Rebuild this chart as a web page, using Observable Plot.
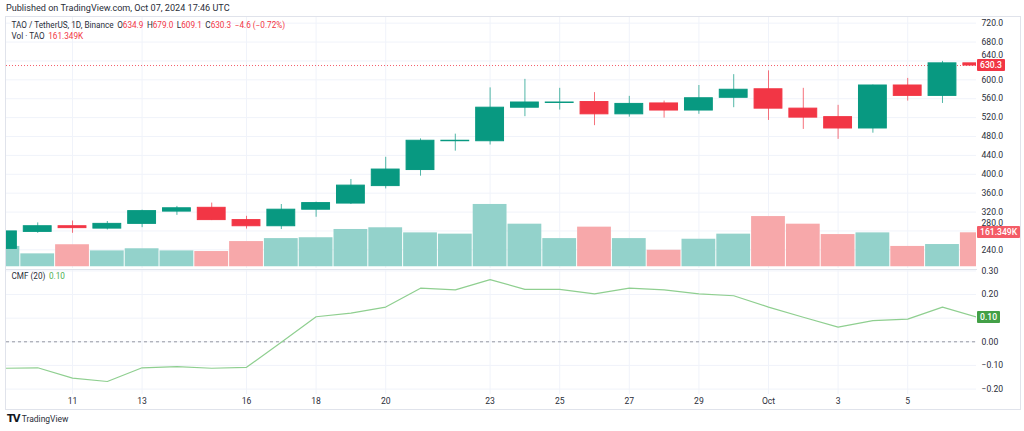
<!DOCTYPE html>
<html><head><meta charset="utf-8">
<script src="https://cdn.jsdelivr.net/npm/d3@7"></script>
<script src="https://cdn.jsdelivr.net/npm/@observablehq/plot@0.6"></script>
<style>
body{margin:0;background:#fff;font-family:Roboto,"Noto Sans",sans-serif;color:#131722;}
#root{position:relative;width:1024px;height:431px;overflow:hidden;background:#fff;}
.abs{position:absolute;white-space:nowrap;}
.txt{font-size:8.2px;line-height:10px;color:#2a2e39;}
.row{display:flex;gap:3.5px;}
.red{color:#f23645;}
.lab{position:absolute;left:977px;height:12px;line-height:12px;font-size:8.6px;color:#fff;padding:0 3px;font-weight:500;border-radius:1px;}
svg.layer{position:absolute;left:0;}
</style></head><body><div id="root"></div>
<script>
// ---------- data ----------
const dates = ["2024-09-09","2024-09-10","2024-09-11","2024-09-12","2024-09-13","2024-09-14","2024-09-15","2024-09-16","2024-09-17","2024-09-18","2024-09-19","2024-09-20","2024-09-21","2024-09-22","2024-09-23","2024-09-24","2024-09-25","2024-09-26","2024-09-27","2024-09-28","2024-09-29","2024-09-30","2024-10-01","2024-10-02","2024-10-03","2024-10-04","2024-10-05","2024-10-06","2024-10-07"];
const open  = [242, 278, 290, 285, 295, 321, 329, 303, 290, 325, 338, 375, 409, 470, 470, 541, 551, 553, 527, 550, 535, 562, 580, 539, 521, 497, 588, 566, 634.9];
const high  = [282, 297, 301, 300, 324, 332, 339, 311, 336, 341, 389, 436, 475, 485, 583, 601, 582, 573, 565, 555, 588, 611, 619, 582, 546, 589, 603, 639, 679.0];
const low   = [236, 275, 275, 282, 287, 313, 302, 284, 283, 309, 336, 369, 396, 449, 462, 522, 536, 503, 521, 519, 527, 541, 514, 495, 474, 487, 555, 550, 609.1];
const close = [279, 290, 286, 295, 322, 328, 303, 290, 325, 339, 376, 410, 471, 471, 541, 552, 552, 527, 549, 535, 561, 579, 539, 520, 497, 588, 566, 634.9, 630.3];
const volume = [97000, 62000, 105000, 76000, 86000, 76000, 73000, 120000, 134000, 138000, 177000, 185000, 161000, 155000, 295000, 202000, 134000, 188000, 134000, 79000, 131000, 155000, 238000, 202000, 153000, 161000, 97000, 106000, 161349];
const cmf = [-0.112, -0.110, -0.154, -0.168, -0.110, -0.105, -0.112, -0.108, -0.002, 0.106, 0.121, 0.147, 0.227, 0.220, 0.263, 0.222, 0.222, 0.203, 0.227, 0.220, 0.203, 0.195, 0.147, 0.104, 0.062, 0.090, 0.096, 0.147, 0.104];
const xTickDates = ["2024-09-11","2024-09-13","2024-09-16","2024-09-18","2024-09-20","2024-09-23","2024-09-25","2024-09-27","2024-09-29","2024-10-01","2024-10-03","2024-10-05"];
const xTickLabels = ["11","13","16","18","20","23","25","27","29","Oct","3","5"];
const priceTicks = [240, 280, 320, 360, 400, 440, 480, 520, 560, 600, 640, 680, 720];
const cmfTicks = [-0.2, -0.1, 0, 0.1, 0.2, 0.3];
const xDomain = ["2024-09-09T02:28:00Z", "2024-10-06T23:27:00Z"];
const priceDomain = [200.5, 732];
const volumeDomain = [0, 1177000];
const cmfDomain = [-0.223, 0.306];

// ---------- build ----------
const UP = "#089981", DOWN = "#f23645";
const VUP = "#93d2cb", VDOWN = "#f7a8aa";
const GRID = "#f0f3fa";
const DAY = 864e5;
const rows = dates.map((d, i) => ({
  date: new Date(d + "T00:00:00Z"), open: open[i], high: high[i], low: low[i],
  close: close[i], vol: volume[i], cmf: cmf[i], up: close[i] >= open[i]
}));
const last = rows[rows.length - 1];
const ticks = xTickDates.map(d => new Date(d + "T00:00:00Z"));
const tickLabelMap = new Map(ticks.map((t, i) => [+t, xTickLabels[i]]));
const X = {type: "utc", domain: xDomain.map(d => new Date(d)), axis: null};
const style = {fontFamily: "Roboto, 'Noto Sans', sans-serif", fontSize: "8.6px", color: "#2a2e39", background: "transparent", overflow: "visible"};
const base = {width: 1024, marginLeft: 6, marginRight: 48, style};
const root = document.getElementById("root");

function place(el, top) { el.classList.add("layer"); el.style.top = top + "px"; root.appendChild(el); return el; }
function div(html, css, cls) { const e = document.createElement("div"); e.className = cls || "abs txt"; e.innerHTML = html; Object.assign(e.style, css); root.appendChild(e); return e; }

// frame box
div("", {left: "5px", top: "16px", width: "1014px", height: "392px", border: "1px solid #e0e3eb"}, "abs");

// price labels that sit under the value tags are nudged up so they stay readable
const nudged = new Map([[640, -6], [280, -8]]);
const priceLabelsPlain = priceTicks.filter(t => !nudged.has(t));

// main pane: grid + price axis
const MAIN_TOP = 17, MAIN_H = 251;
const gridPlot = Plot.plot({...base, height: MAIN_H, marginTop: 0, marginBottom: 0,
  x: X, y: {domain: priceDomain, axis: null},
  marks: [
    Plot.ruleY(priceTicks, {stroke: GRID}),
    Plot.ruleX(ticks, {stroke: GRID}),
    Plot.axisY(priceLabelsPlain, {anchor: "right", tickSize: 0, tickPadding: 5, tickFormat: d => d.toFixed(1), label: null}),
    ...[...nudged].map(([t, dy]) => Plot.axisY([t], {anchor: "right", tickSize: 0, tickPadding: 5, dy, tickFormat: d => d.toFixed(1), label: null}))
  ]});
place(gridPlot, MAIN_TOP);

// volume overlay
const volPlot = Plot.plot({...base, height: MAIN_H, marginTop: 0, marginBottom: 1.5,
  x: X, y: {domain: volumeDomain, axis: null},
  marks: [
    Plot.rectY(rows, {x1: d => new Date(+d.date - DAY / 2), x2: d => new Date(+d.date + DAY / 2), y: "vol",
      fill: d => d.up ? VUP : VDOWN, insetLeft: 0.5, insetRight: 0.5, clip: true})
  ]});
place(volPlot, MAIN_TOP);

// candles
const candlePlot = Plot.plot({...base, height: MAIN_H, marginTop: 0, marginBottom: 0,
  x: X, y: {domain: priceDomain, axis: null},
  marks: [
    Plot.ruleY([last.close], {stroke: DOWN, strokeDasharray: "1,2", strokeOpacity: 0.8}),
    Plot.ruleX(rows, {x: "date", y1: "low", y2: "high", stroke: d => d.up ? UP : DOWN, strokeOpacity: 0.7, clip: true}),
    Plot.rect(rows, {x1: d => new Date(+d.date - 0.4 * DAY), x2: d => new Date(+d.date + 0.4 * DAY),
      y1: "open", y2: "close", fill: d => d.up ? UP : DOWN, stroke: d => d.up ? UP : DOWN, strokeWidth: 1, clip: true})
  ]});
place(candlePlot, MAIN_TOP);

// CMF pane
const CMF_TOP = 268, CMF_H = 141;
const fmt2 = d => (d < 0 ? "\u2212" : "") + Math.abs(d).toFixed(2);
const cmfPlot = Plot.plot({...base, height: CMF_H, marginTop: 1, marginBottom: 15,
  x: X, y: {domain: cmfDomain, axis: null},
  marks: [
    Plot.ruleY(cmfTicks, {stroke: GRID}),
    Plot.ruleX(ticks, {stroke: GRID}),
    Plot.frame({anchor: "top", stroke: "#e0e3eb"}),
    Plot.ruleY([0], {stroke: "#9598a1", strokeDasharray: "3,3"}),
    Plot.line(rows, {x: "date", y: "cmf", stroke: "#8fcf90", strokeWidth: 1.2, clip: true}),
    Plot.axisY(cmfTicks, {anchor: "right", tickSize: 0, tickPadding: 5, tickFormat: fmt2, label: null}),
    Plot.axisX(ticks, {anchor: "bottom", tickSize: 0, tickPadding: 3, tickFormat: d => tickLabelMap.get(+d), label: null})
  ]});
place(cmfPlot, CMF_TOP);

// value tags on the right scale (positions from the plots' own scales)
const yP = candlePlot.scale("y").apply(last.close) + MAIN_TOP;
div(last.close.toFixed(1), {top: (yP - 6) + "px", background: DOWN}, "lab");
const yV = volPlot.scale("y").apply(last.vol) + MAIN_TOP;
div((last.vol / 1000).toFixed(3) + "K", {top: (yV - 6) + "px", background: "#f45c67"}, "lab");
const yC = cmfPlot.scale("y").apply(last.cmf) + CMF_TOP;
div(last.cmf.toFixed(2), {top: (yC - 6) + "px", background: "#43a047"}, "lab");

// header / legends
div("Published on TradingView.com, Oct 07, 2024 17:46 UTC", {left: "6px", top: "3px", fontSize: "9.1px"});
const chg = last.close - last.open;
const legendParts = [
  "TAO / TetherUS, 1D, Binance",
  `O<span class="red">${last.open.toFixed(1)}</span>`,
  `H<span class="red">${last.high.toFixed(1)}</span>`,
  `L<span class="red">${last.low.toFixed(1)}</span>`,
  `C<span class="red">${last.close.toFixed(1)}</span>`,
  `<span class="red">\u2212${Math.abs(chg).toFixed(1)} (\u2212${Math.abs(chg / last.open * 100).toFixed(2)}%)</span>`
];
div(legendParts.map(h => `<span>${h}</span>`).join(""), {left: "11.5px", top: "20px"}, "abs txt row");
div(`<span>Vol \u00b7 TAO</span><span class="red">${(last.vol / 1000).toFixed(3)}K</span>`, {left: "11.5px", top: "31px"}, "abs txt row");
div(`<span>CMF (20)</span><span style="color:#4caf50">${last.cmf.toFixed(2)}</span>`, {left: "11.5px", top: "271px"}, "abs txt row");
div(`<b style="font-size:10px;letter-spacing:-1px;font-family:'DejaVu Sans';color:#131722">TV</b>&nbsp;TradingView`, {left: "7px", top: "414px", fontSize: "8.5px"});
</script></body></html>
